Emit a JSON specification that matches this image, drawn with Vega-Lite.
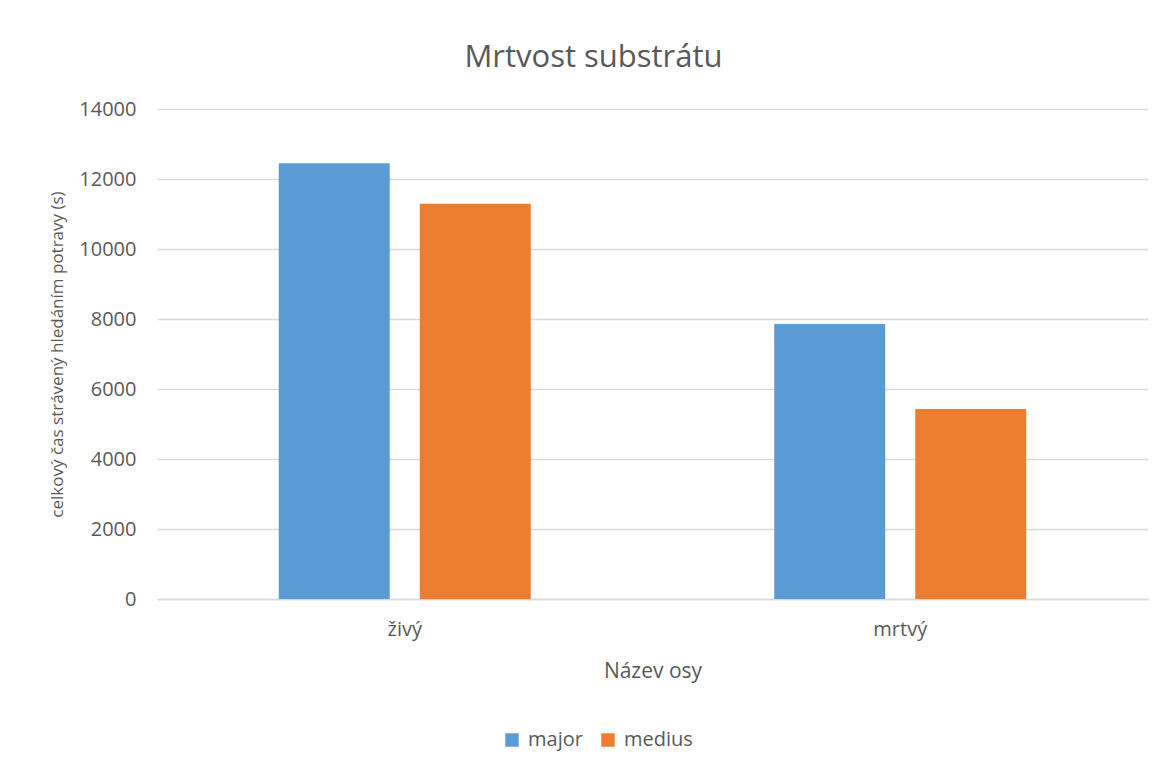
{
  "$schema": "https://vega.github.io/schema/vega-lite/v6.json",
  "autosize": "none",
  "width": 991,
  "height": 490,
  "padding": {"left": 157, "top": 109, "right": 20, "bottom": 172},
  "background": "white",
  "title": {
    "text": "Mrtvost substrátu",
    "font": "Open Sans",
    "fontSize": 31,
    "fontWeight": "normal",
    "color": "#595959",
    "anchor": "middle",
    "baseline": "alphabetic",
    "dx": -59,
    "offset": 1
  },
  "data": {
    "values": [
      {"substrat": "živý", "druh": "major", "cas": 12450},
      {"substrat": "živý", "druh": "medius", "cas": 11290},
      {"substrat": "mrtvý", "druh": "major", "cas": 7860},
      {"substrat": "mrtvý", "druh": "medius", "cas": 5430}
    ]
  },
  "mark": {"type": "bar"},
  "encoding": {
    "x": {
      "field": "substrat",
      "type": "nominal",
      "sort": ["živý", "mrtvý"],
      "scale": {"paddingInner": 0.4914, "paddingOuter": 0.2457},
      "axis": {
        "title": "Název osy",
        "labelAngle": 0,
        "labelFont": "Open Sans",
        "labelFontSize": 20,
        "labelColor": "#595959",
        "labelPadding": 20,
        "ticks": false,
        "domainColor": "#d9d9d9",
        "domainWidth": 1.5,
        "titleFont": "Open Sans",
        "titleFontSize": 21,
        "titleFontWeight": "normal",
        "titleColor": "#595959",
        "titleBaseline": "alphabetic",
        "titleX": 495.5,
        "titleY": 78
      }
    },
    "xOffset": {
      "field": "druh",
      "type": "nominal",
      "scale": {"paddingInner": 0.213, "paddingOuter": 0}
    },
    "y": {
      "field": "cas",
      "type": "quantitative",
      "scale": {"domain": [0, 14000], "nice": false},
      "axis": {
        "title": "celkový čas strávený hledáním potravy (s)",
        "values": [0, 2000, 4000, 6000, 8000, 10000, 12000, 14000],
        "format": "d",
        "domain": false,
        "ticks": false,
        "grid": true,
        "gridColor": "#d9d9d9",
        "gridWidth": 1.5,
        "labelFont": "Open Sans",
        "labelFontSize": 20,
        "labelColor": "#595959",
        "labelPadding": 21,
        "titleFont": "Open Sans",
        "titleFontSize": 17,
        "titleFontWeight": "normal",
        "titleColor": "#595959",
        "titleAngle": -90,
        "titleX": -100,
        "titleY": 245,
        "titleBaseline": "middle",
        "titleAlign": "center"
      }
    },
    "color": {
      "field": "druh",
      "type": "nominal",
      "scale": {"domain": ["major", "medius"], "range": ["#5B9BD5", "#ED7D31"]},
      "legend": {
        "title": null,
        "orient": "none",
        "direction": "horizontal",
        "legendX": 345,
        "legendY": 621,
        "symbolType": "square",
        "symbolSize": 180,
        "symbolStrokeWidth": 0,
        "labelFont": "Open Sans",
        "labelFontSize": 20,
        "labelColor": "#595959",
        "columnPadding": 15,
        "labelOffset": 6
      }
    }
  },
  "config": {"view": {"stroke": null}}
}
